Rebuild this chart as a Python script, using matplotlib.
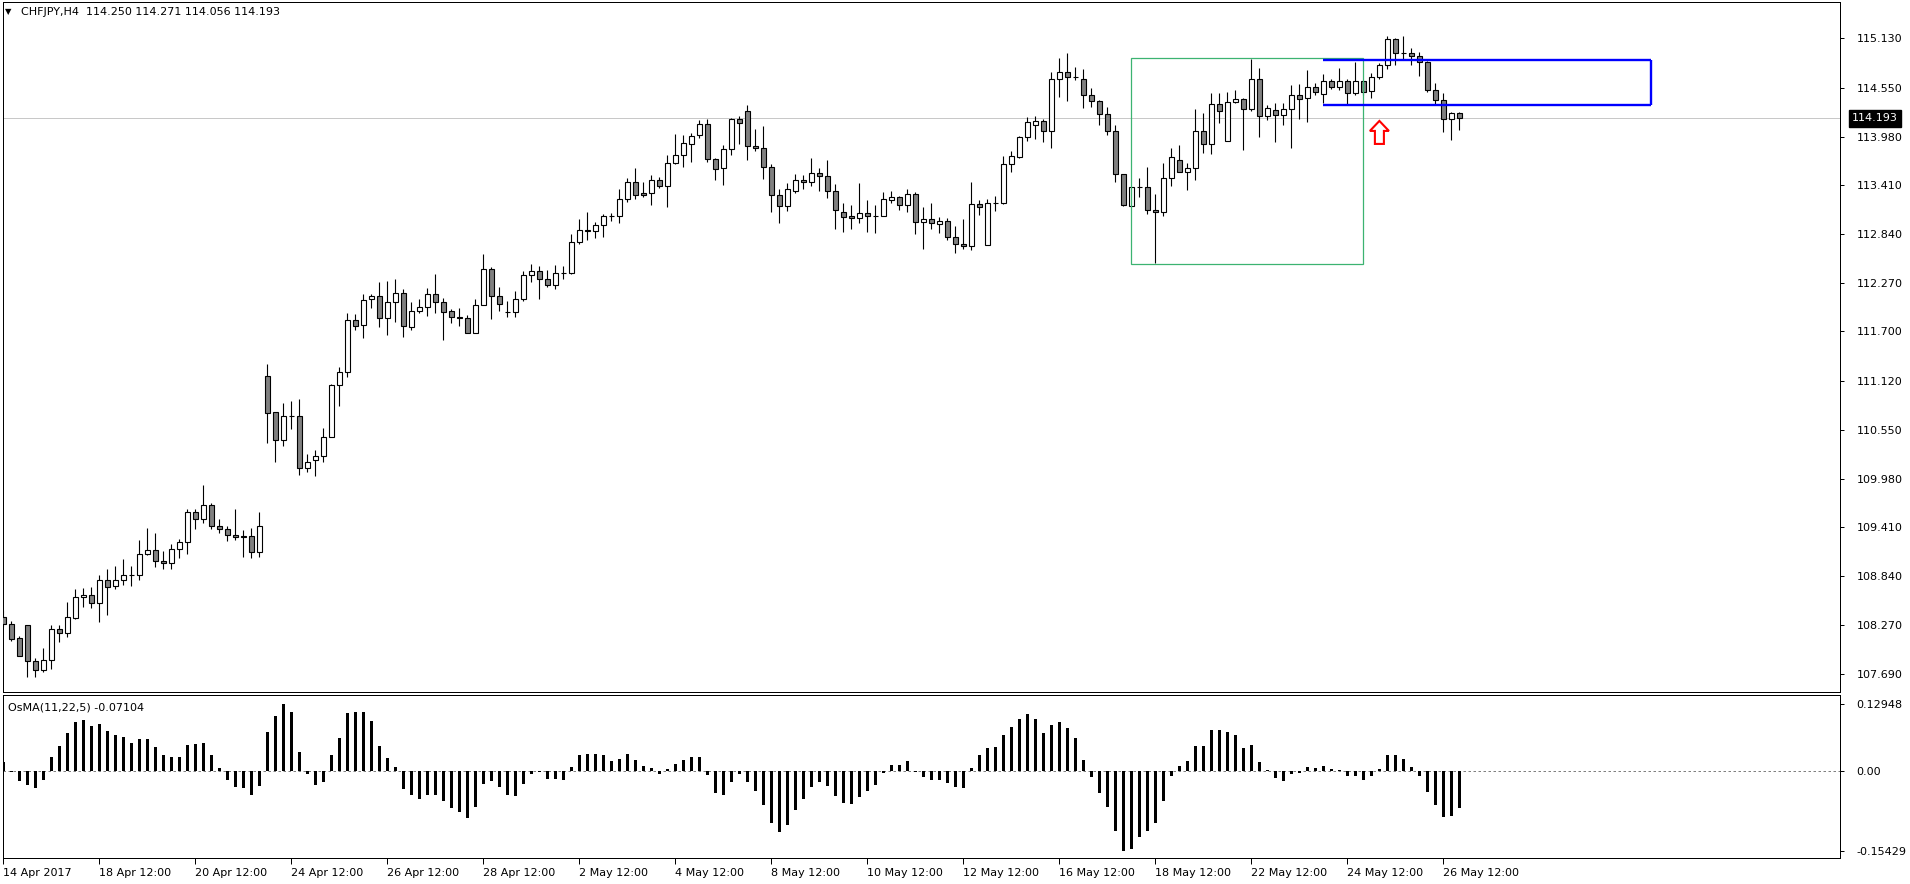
import numpy as np
import matplotlib
matplotlib.use("Agg")
from matplotlib import pyplot as plt
from matplotlib import transforms as mtransforms
from matplotlib.patches import Polygon, Rectangle

SYMBOL = "CHFJPY,H4"
OSMA_NAME = "OsMA(11,22,5)"

# H4 candles, 14 Apr 2017 .. 26 May 2017 20:00
OPEN = [
  108.356, 108.274, 108.111, 108.263, 107.842, 107.736, 107.853, 108.216, 108.169, 108.345,
  108.590, 108.614, 108.520, 108.789, 108.719, 108.789, 108.848, 108.848, 109.093, 109.140,
  109.015, 108.988, 109.152, 109.234, 109.585, 109.503, 109.667, 109.421, 109.386, 109.316,
  109.304, 109.304, 109.117, 111.175, 110.754, 110.426, 110.707, 110.707, 110.099, 110.192,
  110.247, 110.462, 111.070, 111.222, 111.830, 111.772, 112.076, 112.111, 111.854, 112.041,
  112.146, 111.748, 111.936, 111.982, 112.134, 112.041, 111.936, 111.865, 111.854, 111.678,
  112.006, 112.427, 112.111, 111.931, 111.931, 112.076, 112.357, 112.403, 112.310, 112.240,
  112.380, 112.380, 112.743, 112.883, 112.872, 112.942, 113.047, 113.047, 113.246, 113.445,
  113.316, 113.316, 113.468, 113.398, 113.667, 113.761, 113.889, 113.995, 114.123, 113.714,
  113.609, 113.831, 114.182, 114.275, 113.866, 113.843, 113.620, 113.293, 113.164, 113.340,
  113.468, 113.445, 113.550, 113.515, 113.340, 113.094, 113.047, 113.024, 113.082, 113.047,
  113.047, 113.234, 113.269, 113.176, 113.304, 112.977, 113.012, 112.954, 112.989, 112.801,
  112.720, 112.696, 113.187, 112.708, 113.199, 113.199, 113.655, 113.737, 113.971, 114.112,
  114.159, 114.042, 114.650, 114.732, 114.673, 114.650, 114.463, 114.392, 114.240, 114.042,
  113.538, 113.164, 113.386, 113.386, 113.117, 113.094, 113.492, 113.702, 113.562, 113.609,
  114.042, 113.889, 114.357, 113.925, 114.381, 114.416, 114.299, 114.650, 114.217, 114.287,
  114.229, 114.299, 114.463, 114.428, 114.556, 114.474, 114.626, 114.556, 114.626, 114.486,
  114.626, 114.509, 114.673, 114.814, 115.118, 114.954, 114.954, 114.919, 114.849, 114.521,
  114.404, 114.182, 114.250,
]
HIGH = [
  108.442, 108.313, 108.138, 108.263, 107.877, 107.994, 108.267, 108.267, 108.536, 108.688,
  108.700, 108.711, 108.848, 108.922, 108.953, 109.039, 108.953, 109.261, 109.397, 109.343,
  109.132, 109.214, 109.273, 109.624, 109.624, 109.905, 109.690, 109.503, 109.421, 109.620,
  109.374, 109.397, 109.585, 111.315, 110.754, 110.859, 110.883, 110.906, 110.263, 110.309,
  110.567, 111.081, 111.280, 111.912, 111.900, 112.134, 112.134, 112.275, 112.286, 112.310,
  112.193, 112.041, 112.076, 112.204, 112.368, 112.088, 111.959, 111.971, 111.889, 112.076,
  112.606, 112.450, 112.216, 112.052, 112.169, 112.403, 112.485, 112.466, 112.419, 112.474,
  112.466, 112.836, 113.012, 113.094, 112.977, 113.070, 113.082, 113.363, 113.492, 113.609,
  113.445, 113.527, 113.503, 113.761, 114.006, 113.995, 114.018, 114.170, 114.182, 113.726,
  113.878, 114.193, 114.217, 114.346, 114.065, 114.100, 113.655, 113.363, 113.433, 113.538,
  113.527, 113.726, 113.609, 113.702, 113.421, 113.199, 113.176, 113.433, 113.234, 113.176,
  113.328, 113.339, 113.281, 113.363, 113.328, 113.152, 113.199, 113.035, 113.024, 112.930,
  113.012, 113.445, 113.234, 113.246, 113.281, 113.749, 113.808, 113.983, 114.205, 114.217,
  114.182, 114.732, 114.896, 114.954, 114.790, 114.767, 114.545, 114.404, 114.322, 114.112,
  113.538, 113.386, 113.492, 113.620, 113.305, 113.667, 113.843, 113.878, 113.667, 114.299,
  114.252, 114.486, 114.486, 114.498, 114.521, 114.428, 114.884, 114.779, 114.346, 114.369,
  114.369, 114.580, 114.591, 114.755, 114.603, 114.708, 114.650, 114.779, 114.650, 114.849,
  114.638, 114.720, 114.837, 115.157, 115.130, 115.157, 115.013, 114.966, 114.860, 114.603,
  114.486, 114.264, 114.271,
]
LOW = [
  108.239, 108.083, 107.900, 107.662, 107.654, 107.713, 107.748, 108.064, 108.122, 108.333,
  108.481, 108.462, 108.305, 108.384, 108.684, 108.735, 108.727, 108.797, 109.090, 108.949,
  108.918, 108.918, 109.054, 109.093, 109.394, 109.464, 109.394, 109.347, 109.245, 109.265,
  109.066, 109.054, 109.066, 110.399, 110.177, 110.364, 110.563, 110.025, 110.060, 110.013,
  110.177, 110.462, 110.832, 111.163, 111.713, 111.620, 111.971, 111.748, 111.655, 111.807,
  111.631, 111.713, 111.912, 111.877, 111.912, 111.596, 111.795, 111.760, 111.678, 111.678,
  112.006, 111.850, 111.943, 111.865, 111.865, 112.052, 112.275, 112.076, 112.216, 112.201,
  112.310, 112.369, 112.720, 112.766, 112.790, 112.801, 112.989, 112.965, 113.211, 113.246,
  113.269, 113.176, 113.375, 113.152, 113.655, 113.620, 113.679, 113.960, 113.679, 113.468,
  113.410, 113.761, 113.889, 113.702, 113.807, 113.480, 113.094, 112.965, 113.106, 113.316,
  113.363, 113.398, 113.340, 113.258, 112.895, 112.868, 112.903, 112.973, 112.868, 112.856,
  113.047, 113.199, 113.117, 113.094, 112.836, 112.669, 112.903, 112.856, 112.766, 112.622,
  112.669, 112.657, 113.059, 112.708, 113.105, 113.188, 113.562, 113.726, 113.925, 113.948,
  113.913, 113.843, 114.439, 114.392, 114.638, 114.311, 114.322, 114.112, 113.995, 113.445,
  113.164, 113.164, 113.269, 113.071, 112.497, 113.047, 113.398, 113.562, 113.351, 113.468,
  113.784, 113.772, 114.135, 113.925, 114.369, 113.819, 114.276, 113.971, 114.170, 113.913,
  114.112, 113.843, 114.182, 114.147, 114.463, 114.369, 114.533, 114.521, 114.357, 114.463,
  114.463, 114.428, 114.650, 114.767, 114.814, 114.884, 114.814, 114.685, 114.498, 114.346,
  114.030, 113.936, 114.056,
]
CLOSE = [
  108.274, 108.099, 107.900, 107.842, 107.736, 107.853, 108.216, 108.169, 108.356, 108.590,
  108.614, 108.520, 108.789, 108.707, 108.789, 108.848, 108.848, 109.093, 109.140, 109.011,
  108.988, 109.152, 109.234, 109.585, 109.503, 109.667, 109.421, 109.386, 109.316, 109.292,
  109.292, 109.117, 109.421, 110.742, 110.426, 110.707, 110.707, 110.099, 110.169, 110.247,
  110.462, 111.070, 111.222, 111.830, 111.760, 112.064, 112.111, 111.854, 112.041, 112.146,
  111.760, 111.936, 111.982, 112.134, 112.041, 111.924, 111.865, 111.861, 111.678, 112.006,
  112.427, 112.111, 112.017, 111.931, 112.076, 112.357, 112.403, 112.310, 112.240, 112.380,
  112.380, 112.743, 112.883, 112.872, 112.942, 113.047, 113.047, 113.246, 113.445, 113.293,
  113.293, 113.468, 113.398, 113.667, 113.761, 113.901, 113.983, 114.123, 113.714, 113.597,
  113.831, 114.182, 114.135, 113.866, 113.843, 113.620, 113.293, 113.164, 113.363, 113.468,
  113.445, 113.550, 113.515, 113.340, 113.117, 113.035, 113.024, 113.082, 113.047, 113.047,
  113.246, 113.269, 113.176, 113.304, 112.977, 113.012, 112.965, 112.989, 112.801, 112.720,
  112.696, 113.187, 113.152, 113.199, 113.199, 113.655, 113.749, 113.971, 114.147, 114.159,
  114.042, 114.650, 114.732, 114.673, 114.673, 114.463, 114.392, 114.240, 114.042, 113.538,
  113.176, 113.386, 113.386, 113.117, 113.094, 113.492, 113.737, 113.562, 113.609, 114.042,
  113.889, 114.357, 114.276, 114.381, 114.416, 114.299, 114.650, 114.217, 114.311, 114.229,
  114.299, 114.463, 114.416, 114.556, 114.498, 114.626, 114.556, 114.626, 114.486, 114.626,
  114.498, 114.673, 114.814, 115.118, 114.954, 114.954, 114.919, 114.849, 114.521, 114.404,
  114.182, 114.252, 114.193,
]
OSMA = [
  0.0166, -0.0019, -0.0186, -0.0275, -0.0320, -0.0166, 0.0262, 0.0486, 0.0736, 0.0954,
  0.0986, 0.0870, 0.0909, 0.0774, 0.0698, 0.0659, 0.0544, 0.0621, 0.0621, 0.0467,
  0.0314, 0.0262, 0.0275, 0.0506, 0.0525, 0.0544, 0.0314, 0.0064, -0.0166, -0.0301,
  -0.0333, -0.0467, -0.0288, 0.0755, 0.1062, 0.12948, 0.1139, 0.0371, -0.0064, -0.0269,
  -0.0218, 0.0314, 0.0640, 0.1126, 0.1146, 0.1146, 0.0973, 0.0486, 0.0243, 0.0083,
  -0.0352, -0.0467, -0.0544, -0.0467, -0.0467, -0.0582, -0.0717, -0.0800, -0.0909, -0.0698,
  -0.0243, -0.0198, -0.0301, -0.0467, -0.0486, -0.0243, -0.0058, -0.0019, -0.0154, -0.0160,
  -0.0173, 0.0083, 0.0314, 0.0333, 0.0333, 0.0314, 0.0198, 0.0237, 0.0333, 0.0218,
  0.0102, 0.0064, -0.0058, 0.0045, 0.0141, 0.0218, 0.0275, 0.0275, -0.0077, -0.0429,
  -0.0467, -0.0218, -0.0058, -0.0218, -0.0390, -0.0659, -0.1005, -0.1178, -0.1043, -0.0762,
  -0.0544, -0.0314, -0.0218, -0.0294, -0.0486, -0.0621, -0.0640, -0.0506, -0.0390, -0.0275,
  -0.0038, 0.0115, 0.0115, 0.0192, -0.0019, -0.0122, -0.0179, -0.0179, -0.0237, -0.0314,
  -0.0333, 0.0058, 0.0314, 0.0448, 0.0461, 0.0691, 0.0845, 0.0998, 0.1101, 0.0998,
  0.0730, 0.0883, 0.0941, 0.0826, 0.0634, 0.0211, -0.0115, -0.0429, -0.0698, -0.1158,
  -0.15429, -0.1504, -0.1274, -0.1158, -0.0998, -0.0582, -0.0096, 0.0102, 0.0198, 0.0486,
  0.0486, 0.0787, 0.0800, 0.0755, 0.0691, 0.0448, 0.0506, 0.0179, 0.0019, -0.0134,
  -0.0198, -0.0058, -0.0045, 0.0083, 0.0064, 0.0102, 0.0045, 0.0019, -0.0102, -0.0102,
  -0.0179, -0.0102, 0.0045, 0.0314, 0.0314, 0.0237, 0.0083, -0.0102, -0.0410, -0.0659,
  -0.0890, -0.0870, -0.07104,
]

PRICE_TICKS = [115.130, 114.550, 113.980, 113.410, 112.840, 112.270, 111.700,
               111.120, 110.550, 109.980, 109.410, 108.840, 108.270, 107.690]
TIME_LABELS = ["14 Apr 2017", "18 Apr 12:00", "20 Apr 12:00", "24 Apr 12:00",
               "26 Apr 12:00", "28 Apr 12:00", "2 May 12:00", "4 May 12:00",
               "8 May 12:00", "10 May 12:00", "12 May 12:00", "16 May 12:00",
               "18 May 12:00", "22 May 12:00", "24 May 12:00", "26 May 12:00"]
TIME_LABEL_EVERY = 12

# objects drawn on the chart: (first bar, last bar, low price, high price)
GREEN_BOX = (141, 170, 112.490, 114.896)
BLUE_BOX = (165, 206, 114.350, 114.880)
ARROW_AT = (172, 114.163)   # bar, price of arrow tip

W, H = 1910, 884
PX = 0.72  # one pixel in points at dpi 100


def add_panel(fig, left, top, right, bottom):
  return fig.add_axes([left / W, 1 - bottom / H, (right - left) / W, (bottom - top) / H])


def style_panel(ax):
  for sp in ax.spines.values():
    sp.set_color('black')
    sp.set_linewidth(PX)
  ax.yaxis.tick_right()
  ax.tick_params(axis='y', direction='out', length=3, width=PX, pad=9,
                 labelsize=8, colors='black')
  ax.set_facecolor('white')


def draw_chart():
  o, h, l, c = (np.array(v) for v in (OPEN, HIGH, LOW, CLOSE))
  osma = np.array(OSMA)
  x = np.arange(len(c))

  fig = plt.figure(figsize=(W / 100, H / 100), dpi=100)
  fig.patch.set_facecolor('white')

  # bar i sits at pixel 3.4 + 8*i
  x_left, x_right = 2.5, 1840
  xlim = ((x_left - 3.4) / 8, (x_right - 3.4) / 8)

  ax = add_panel(fig, x_left, 1.5, x_right, 692)
  osc = add_panel(fig, x_left, 695, x_right, 858)

  # --- price panel
  style_panel(ax)
  ax.set_xlim(*xlim)
  ax.set_ylim(107.483, 115.560)
  ax.set_xticks([])
  ax.set_yticks(PRICE_TICKS)
  ax.set_yticklabels([f"{p:.3f}" for p in PRICE_TICKS])

  ax.axhline(c[-1], color='#c8c8c8', linewidth=PX, zorder=1)

  up = c >= o
  ax.vlines(x, l, h, colors='black', linewidth=0.8, zorder=2)
  ax.bar(x, np.abs(c - o), bottom=np.minimum(o, c), width=0.55,
         color=np.where(up, 'white', '#808080'), edgecolor='black',
         linewidth=0.8, zorder=3)

  b0, b1, lo, hi = GREEN_BOX
  ax.add_patch(Rectangle((b0, lo), b1 - b0, hi - lo, fill=False,
                         edgecolor='#3cb371', linewidth=0.9, zorder=4))
  b0, b1, lo, hi = BLUE_BOX
  ax.hlines([lo, hi], b0, b1, colors='#0000ff', linewidth=1.7, zorder=4)
  ax.vlines(b1, lo, hi, colors='#0000ff', linewidth=1.7, zorder=4)

  # hollow up arrow, fixed pixel size, tip at ARROW_AT
  arrow_px = np.array([(0, 0), (9.5, -10), (4.5, -10), (4.5, -23),
                       (-4.5, -23), (-4.5, -10), (-9.5, -10)]) / 100.0
  trans = fig.dpi_scale_trans + mtransforms.ScaledTranslation(ARROW_AT[0], ARROW_AT[1], ax.transData)
  ax.add_patch(Polygon(arrow_px, closed=True, facecolor='white', edgecolor='red',
                       linewidth=1.5, transform=trans, zorder=5))

  ax.annotate(f"{c[-1]:.3f}", xy=(1, c[-1]), xycoords=ax.get_yaxis_transform(),
              xytext=(12, 0), textcoords='offset pixels', ha='left', va='center',
              fontsize=8, color='white', annotation_clip=False,
              bbox=dict(boxstyle='square,pad=0.3', facecolor='black', edgecolor='black'))

  fig.text(5 / W, 1 - 12 / H, "\u25bc", fontsize=6, va='center', ha='left')
  fig.text(21 / W, 1 - 12 / H,
           f"{SYMBOL}  {o[-1]:.3f} {h[-1]:.3f} {l[-1]:.3f} {c[-1]:.3f}",
           fontsize=8, va='center', ha='left')

  # --- oscillator panel
  style_panel(osc)
  osc.set_xlim(*xlim)
  osc.set_ylim(-0.1679, 0.1467)
  osc.bar(x, osma, width=0.35, color='black', linewidth=0, zorder=3)
  osc.axhline(0, color='#808080', linestyle=(0, (2.5, 2.5)), linewidth=PX, zorder=2)
  ticks = [osma.max(), 0.0, osma.min()]
  osc.set_yticks(ticks)
  osc.set_yticklabels([f"{ticks[0]:.5f}", "0.00", f"{ticks[2]:.5f}"])

  osc.set_xticks(np.arange(0, len(c), TIME_LABEL_EVERY))
  osc.set_xticklabels(TIME_LABELS)
  osc.tick_params(axis='x', direction='out', length=4, width=PX, pad=3,
                  labelsize=8, colors='black')
  for lbl in osc.get_xticklabels():
    lbl.set_ha('left')

  osc.text(5 / (x_right - x_left), 1 - 13 / 163, f"{OSMA_NAME} {osma[-1]:.5f}",
           transform=osc.transAxes, fontsize=8, va='center', ha='left')

  fig.savefig('out.png', dpi=100, facecolor='white')


draw_chart()
